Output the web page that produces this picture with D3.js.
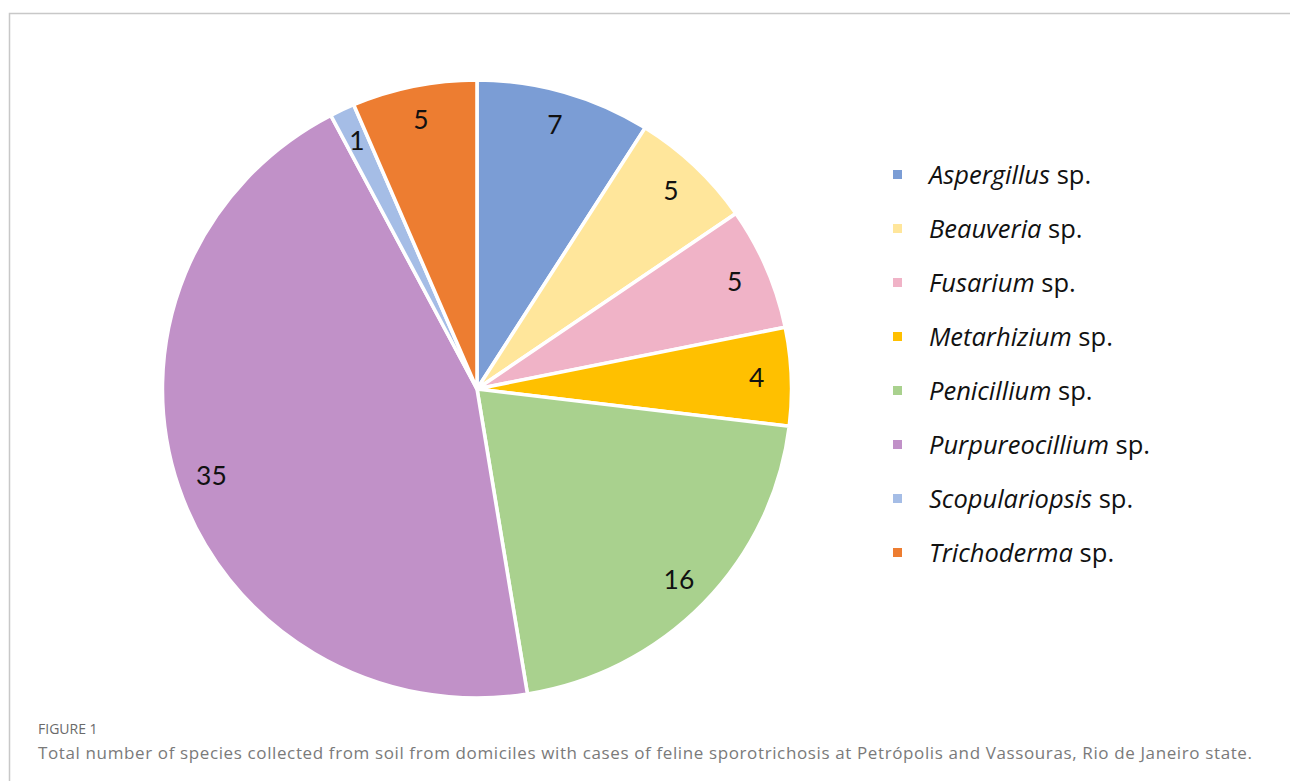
<!DOCTYPE html>
<html>
<head>
<meta charset="utf-8">
<script src="https://cdn.jsdelivr.net/npm/d3@7"></script>
<style>
  body { margin: 0; background: #fff; }
  svg { display: block; }
</style>
</head>
<body>
<div id="chart"></div>
<script>
// data
var genus = ["Aspergillus", "Beauveria", "Fusarium", "Metarhizium", "Penicillium", "Purpureocillium", "Scopulariopsis", "Trichoderma"];
var counts = [7, 5, 5, 4, 16, 35, 1, 5];
var colors = ["#7b9dd5", "#ffe69b", "#f0b3c7", "#ffc000", "#a9d18e", "#c191c8", "#a5bde6", "#ed7d31"];
var captionHead = "FIGURE 1";
var captionText = "Total number of species collected from soil from domiciles with cases of feline sporotrichosis at Petrópolis and Vassouras, Rio de Janeiro state.";

var W = 1290, H = 781;
var cx = 477, cy = 389, R = 309;

var svg = d3.select("#chart").append("svg")
    .attr("width", W)
    .attr("height", H);

// frame (right and bottom run off the picture)
svg.append("path")
    .attr("d", "M9.5," + (H + 5) + " V13.5 H" + (W + 5))
    .attr("fill", "none")
    .attr("stroke", "#c8c8c8")
    .attr("stroke-width", 1.5);

var rows = genus.map(function(g, i) { return {name: g, value: counts[i], color: colors[i]}; });

var pie = d3.pie().sort(null).value(function(d) { return d.value; });
var arc = d3.arc().innerRadius(0).outerRadius(R);
var labelArc = d3.arc().innerRadius(R * 0.89).outerRadius(R * 0.89);

// pie is slightly wider than tall in the source image
var g = svg.append("g")
    .attr("transform", "translate(" + cx + "," + cy + ") scale(1.018,1)");

var slices = g.selectAll("g.slice")
    .data(pie(rows))
    .enter()
    .append("g")
    .attr("class", "slice");

slices.append("path")
    .attr("d", arc)
    .attr("fill", function(d) { return d.data.color; })
    .attr("stroke", "#fff")
    .attr("stroke-width", 3.5)
    .attr("stroke-linejoin", "round");

slices.append("text")
    .attr("transform", function(d) { return "translate(" + labelArc.centroid(d) + ")"; })
    .attr("text-anchor", "middle")
    .attr("dy", "0.36em")
    .style("font-family", "Lato, 'Open Sans', sans-serif")
    .style("font-size", "26px")
    .style("fill", "#111")
    .text(function(d) { return d.data.value; });

// legend
var y = d3.scalePoint().domain(genus).range([175, 553]);

var legend = svg.selectAll("g.legend")
    .data(rows)
    .enter()
    .append("g")
    .attr("class", "legend")
    .attr("transform", function(d) { return "translate(893," + y(d.name) + ")"; });

legend.append("rect")
    .attr("x", 0)
    .attr("y", -5)
    .attr("width", 9)
    .attr("height", 9)
    .attr("fill", function(d) { return d.color; });

var lt = legend.append("text")
    .attr("x", 36)
    .attr("dy", "0.35em")
    .style("font-family", "'Open Sans', sans-serif")
    .style("font-size", "25.5px")
    .style("fill", "#111");
lt.append("tspan").style("font-style", "italic").text(function(d) { return d.name; });
lt.append("tspan").text(" sp.");

// caption
svg.append("text")
    .attr("x", 38)
    .attr("y", 734)
    .style("font-family", "'Open Sans', sans-serif")
    .style("font-size", "14px")
    .style("fill", "#6a6a6a")
    .text(captionHead);

svg.append("text")
    .attr("x", 38)
    .attr("y", 759)
    .attr("textLength", 1214)
    .attr("lengthAdjust", "spacing")
    .style("font-family", "'Open Sans', sans-serif")
    .style("font-size", "17px")
    .style("fill", "#7a7a7a")
    .text(captionText);
</script>
</body>
</html>
